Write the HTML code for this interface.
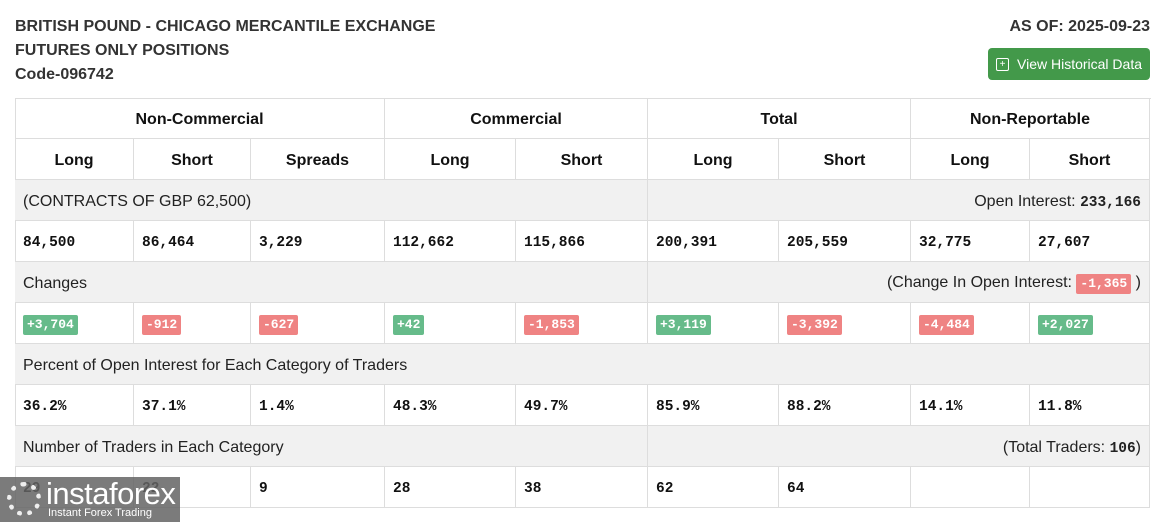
<!DOCTYPE html>
<html><head><meta charset="utf-8"><style>
body{margin:0;width:1160px;height:522px;background:#fff;position:relative;overflow:hidden;font-family:"Liberation Sans",sans-serif;color:#222}
.t{position:absolute;font-weight:bold;font-size:16px;color:#333}
.c{position:absolute;box-sizing:border-box;border-right:1px solid #ddd;border-bottom:1px solid #ddd;display:flex;align-items:center;font-size:16px;padding-top:3px}
.h{justify-content:center;font-weight:bold;color:#111}
.g{background:#f1f1f1;padding-left:8px;padding-right:8px}
.m{font-family:"Liberation Mono",monospace;font-weight:bold;font-size:14.5px;padding-left:8px;color:#111}
.b{display:inline-block;color:#fff;font-family:"Liberation Mono",monospace;font-size:13px;font-weight:bold;padding:2px 4px;border-radius:2px;line-height:16px}
.gr{background:#66bb8a}.rd{background:#ef8383}
</style></head><body>
<div class="t" style="left:15px;top:18px">BRITISH POUND - CHICAGO MERCANTILE EXCHANGE</div>
<div class="t" style="left:15px;top:42px">FUTURES ONLY POSITIONS</div>
<div class="t" style="left:15px;top:66px">Code-096742</div>
<div class="t" style="right:10px;top:18px">AS OF: 2025-09-23</div>
<div style="position:absolute;left:988px;top:48px;width:162px;height:32px;background:#43994a;border-radius:4px;color:#fff;font-size:14px;display:flex;align-items:center"><span style="display:inline-block;width:11px;height:11px;border:1.5px solid #fff;border-radius:2px;margin:0 8px 0 8px;font-size:10px;line-height:11px;text-align:center">+</span>View Historical Data</div>
<div style="position:absolute;left:15px;top:98px;width:1136px;height:411px;border-top:1px solid #ddd;border-left:1px solid #ddd;box-sizing:border-box"></div>
<div id="g"></div>
<script>
var X=[15,134,251,385,516,648,779,911,1030,1150];
var Y=[98,139,180,221,262,303,344,385,426,467,508];
var out='';
function cell(x1,x2,r,cls,html){out+='<div class="c '+cls+'" style="left:'+X[x1]+'px;width:'+(X[x2]-X[x1])+'px;top:'+Y[r]+'px;height:'+(Y[r+1]-Y[r])+'px">'+html+'</div>';}
cell(0,3,0,'h','Non-Commercial');cell(3,5,0,'h','Commercial');cell(5,7,0,'h','Total');cell(7,9,0,'h','Non-Reportable');
var hd=['Long','Short','Spreads','Long','Short','Long','Short','Long','Short'];
for(var i=0;i<9;i++)cell(i,i+1,1,'h',hd[i]);
cell(0,5,2,'g','(CONTRACTS OF GBP 62,500)');cell(5,9,2,'g','<span style="margin-left:auto">Open Interest: <b style="font-family:Liberation Mono,monospace;font-size:14.5px">233,166</b></span>');
var v=['84,500','86,464','3,229','112,662','115,866','200,391','205,559','32,775','27,607'];
for(i=0;i<9;i++)cell(i,i+1,3,'m',v[i]);
cell(0,5,4,'g','Changes');cell(5,9,4,'g','<span style="margin-left:auto">(Change In Open Interest: <span class="b rd">-1,365</span> )</span>');
var ch=['+3,704','-912','-627','+42','-1,853','+3,119','-3,392','-4,484','+2,027'];
for(i=0;i<9;i++)cell(i,i+1,5,'m','<span class="b '+(ch[i][0]=='+'?'gr':'rd')+'">'+ch[i]+'</span>');
cell(0,9,6,'g','Percent of Open Interest for Each Category of Traders');
var p=['36.2%','37.1%','1.4%','48.3%','49.7%','85.9%','88.2%','14.1%','11.8%'];
for(i=0;i<9;i++)cell(i,i+1,7,'m',p[i]);
cell(0,5,8,'g','Number of Traders in Each Category');cell(5,9,8,'g','<span style="margin-left:auto">(Total Traders: <b style="font-family:Liberation Mono,monospace;font-size:14.5px">106</b>)</span>');
var n=['29','22','9','28','38','62','64','',''];
for(i=0;i<9;i++)cell(i,i+1,9,'m',n[i]);
document.getElementById('g').innerHTML=out;
</script>
<div style="position:absolute;left:0;top:477px;width:180px;height:45px;background:rgba(100,100,100,0.85);color:#fff">
<div style="position:absolute;left:7px;top:5px;width:34px;height:34px;border-radius:50%;border:5px dotted #eee;box-sizing:border-box"></div>
<div style="position:absolute;left:46px;top:-1px;font-size:31px;letter-spacing:-0.5px">instaforex</div>
<div style="position:absolute;left:48px;top:30px;font-size:11px">Instant Forex Trading</div>
</div>
</body></html>
